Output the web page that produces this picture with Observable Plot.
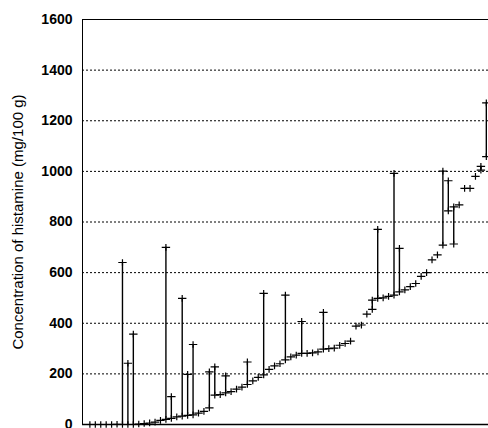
<!DOCTYPE html>
<html>
<head>
<meta charset="utf-8">
<script src="https://cdn.jsdelivr.net/npm/d3@7"></script>
<script src="https://cdn.jsdelivr.net/npm/@observablehq/plot@0.6"></script>
<style>
  html, body { margin: 0; padding: 0; background: #fff; overflow: hidden; }
</style>
</head>
<body>
<div id="chart"></div>
<script>
// Histamine per sample (mg/100 g): lowest value of each sample, in plotting order
const lowValues = [
  0, 0, 0, 0, 0, 1, 0, 0, 0, 2,
  4, 6, 9, 16, 20, 24, 30, 33, 36, 38,
  45, 52, 66, 116, 118, 125, 130, 140, 148, 158,
  172, 186, 196, 218, 232, 240, 255, 267, 274, 281,
  281, 283, 287, 298, 300, 302, 313, 320, 329, 389,
  393, 436, 455, 498, 500, 506, 511, 524, 532, 545,
  557, 585, 600, 650, 670, 709, 844, 713, 868, 933,
  933, 980, 1005, 1058
];
// Highest value of the same sample, where it was measured more than once
const highValues = [
  null, null, null, null, null, null, 640, 242, 357, null,
  null, null, null, null, 700, 110, null, 498, 198, 316,
  null, null, 208, 228, null, 192, null, null, null, 247,
  null, null, 518, null, null, null, 511, null, null, 407,
  null, null, null, 443, null, null, null, null, null, null,
  null, null, 491, 771, null, null, 992, 696, null, null,
  null, null, null, null, null, 1001, 963, 860, null, null,
  null, null, 1020, 1271
];
const yTicks = [0, 200, 400, 600, 800, 1000, 1200, 1400, 1600];
const gridValues = [200, 400, 600, 800, 1000, 1200, 1400];
const yLabel = "Concentration of histamine (mg/100 g)";
const xDomain = [-1.36, 73.4];

const samples = lowValues.map((low, i) => ({i, low, high: highValues[i]}));
const ranges = samples.filter(d => d.high != null);
const points = samples.flatMap(d =>
  d.high == null ? [{i: d.i, v: d.low}] : [{i: d.i, v: d.low}, {i: d.i, v: d.high}]
);

// thin "+" marker, a little wider than tall
const plusSymbol = {
  draw(context, size) {
    const r = Math.sqrt(size / Math.PI);
    context.moveTo(-r, 0);
    context.lineTo(r, 0);
    context.moveTo(0, -r * 0.8);
    context.lineTo(0, r * 0.8);
  }
};

const chart = Plot.plot({
  width: 488,
  height: 428,
  marginLeft: 82,
  marginRight: 0,
  marginTop: 19,
  marginBottom: 4,
  style: {fontFamily: "'Liberation Sans', Arial, sans-serif", fontSize: "14px", fontWeight: "bold", color: "black", background: "white"},
  x: {domain: xDomain, axis: null},
  y: {domain: [0, 1600], ticks: yTicks, tickFormat: d => String(d), tickSize: 0, tickPadding: 10, label: null},
  marks: [
    Plot.ruleY(gridValues, {stroke: "black", strokeWidth: 1, strokeDasharray: "2,2"}),
    Plot.ruleY([1600], {stroke: "black", strokeWidth: 1}),
    Plot.ruleY([0], {stroke: "black", strokeWidth: 1.5}),
    Plot.ruleX([xDomain[0]], {stroke: "black", strokeWidth: 1}),
    Plot.ruleX(ranges, {x: "i", y1: "low", y2: "high", stroke: "black", strokeWidth: 1.4}),
    Plot.dot(points, {x: "i", y: "v", symbol: plusSymbol, r: 4.2, fill: "none", stroke: "black", strokeWidth: 1.2}),
    Plot.text([yLabel], {frameAnchor: "left", textAnchor: "middle", dx: -64, rotate: -90, fontSize: 15, fontWeight: "normal", text: d => d})
  ]
});

document.getElementById("chart").appendChild(chart);
</script>
</body>
</html>
